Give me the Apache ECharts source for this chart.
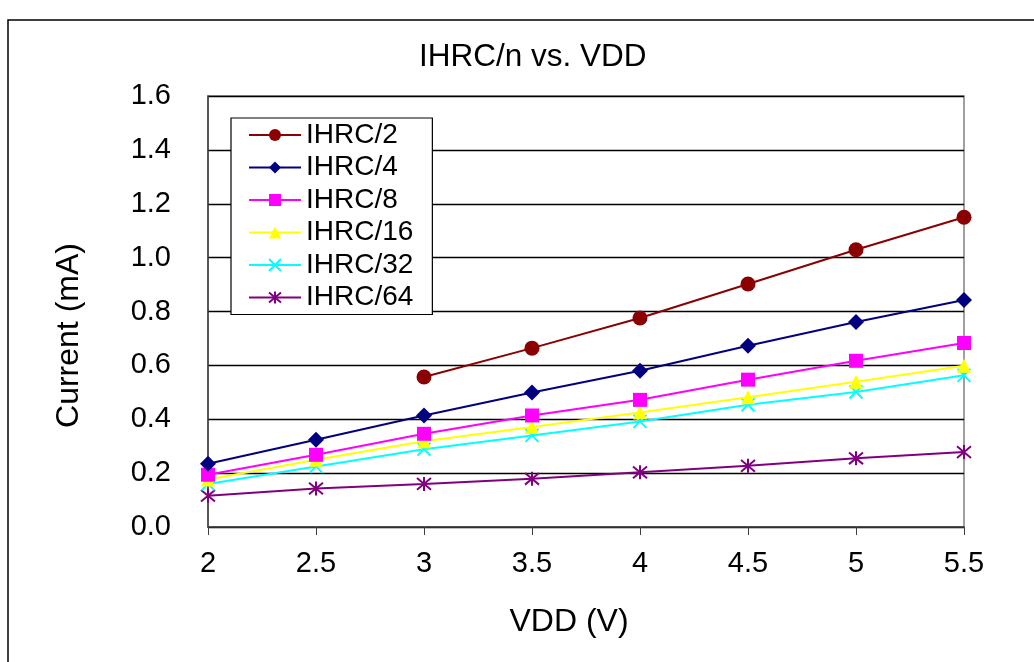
<!DOCTYPE html>
<html lang="en">
<head>
    <meta charset="UTF-8">
    <title>IHRC/n vs. VDD</title>
    <style>
        html, body { margin: 0; padding: 0; background: #fff; }
        #main { width: 1034px; height: 662px; }
    </style>
</head>
<body>
<div id="main"></div>
<script src="https://cdn.jsdelivr.net/npm/echarts@6/dist/echarts.min.js"></script>
<script type="text/javascript">
    // data
    var vdd = [2, 2.5, 3, 3.5, 4, 4.5, 5, 5.5];
    var ihrc2 = [null, null, 0.557, 0.664, 0.776, 0.902, 1.029, 1.150];
    var ihrc4 = [0.235, 0.324, 0.414, 0.499, 0.580, 0.673, 0.761, 0.843];
    var ihrc8 = [0.194, 0.268, 0.346, 0.414, 0.472, 0.547, 0.617, 0.683];
    var ihrc16 = [0.176, 0.250, 0.318, 0.371, 0.425, 0.482, 0.539, 0.599];
    var ihrc32 = [0.160, 0.225, 0.289, 0.340, 0.392, 0.454, 0.501, 0.563];
    var ihrc64 = [0.116, 0.143, 0.160, 0.179, 0.203, 0.227, 0.255, 0.278];
    var seriesNames = ['IHRC/2', 'IHRC/4', 'IHRC/8', 'IHRC/16', 'IHRC/32', 'IHRC/64'];

    var font = 'Liberation Sans, Arial, sans-serif';

    function pairs(ys) {
        var out = [];
        for (var i = 0; i < vdd.length; i++) {
            if (ys[i] !== null) out.push([vdd[i], ys[i]]);
        }
        return out;
    }

    // marker looks: circle, diamond, square, triangle, x, asterisk
    var looks = [
        { color: '#8b0000', symbol: 'circle', size: 15, stroke: false },
        { color: '#000080', symbol: 'diamond', size: 16, stroke: false },
        { color: '#ff00ff', symbol: 'rect', size: 14, stroke: false },
        { color: '#ffff00', symbol: 'triangle', size: 14, stroke: false },
        { color: '#00ffff', symbol: 'path://M0,0L10,10M10,0L0,10', size: 13, stroke: true },
        { color: '#800080', symbol: 'path://M0,0L10,10M10,0L0,10M5,-1L5,11', size: 14, stroke: true }
    ];
    var allData = [ihrc2, ihrc4, ihrc8, ihrc16, ihrc32, ihrc64];

    var series = seriesNames.map(function (name, i) {
        var lk = looks[i];
        return {
            name: name,
            type: 'line',
            data: pairs(allData[i]),
            symbol: lk.symbol,
            symbolSize: lk.size,
            showAllSymbol: true,
            lineStyle: { color: lk.color, width: 2 },
            itemStyle: lk.stroke
                ? { color: 'transparent', borderColor: lk.color, borderWidth: 2 }
                : { color: lk.color, borderWidth: 0 },
            emphasis: { disabled: true },
            z: 10 - i
        };
    });

    var myChart = echarts.init(document.getElementById('main'));
    var option = {
        backgroundColor: '#fff',
        animation: false,
        title: {
            text: 'IHRC/n vs. VDD',
            left: 414,
            top: 36,
            textStyle: { fontFamily: font, fontSize: 31.5, fontWeight: 'normal', color: '#000' }
        },
        graphic: [{
            type: 'rect',
            shape: { x: 8, y: 20, width: 1040, height: 660 },
            style: { fill: 'none', stroke: '#000', lineWidth: 1.5 },
            silent: true
        }],
        legend: {
            orient: 'vertical',
            left: 231,
            top: 118,
            padding: [3, 19, 3, 17],
            itemGap: 4.5,
            itemWidth: 52,
            itemHeight: 15,
            backgroundColor: '#fff',
            borderColor: '#000',
            borderWidth: 1.2,
            textStyle: { fontFamily: font, fontSize: 28, color: '#000' },
            data: seriesNames
        },
        grid: {
            left: 208,
            right: 70,
            top: 96,
            bottom: 135,
            show: true,
            borderColor: '#808080',
            borderWidth: 1.5
        },
        xAxis: {
            type: 'value',
            min: 2,
            max: 5.5,
            interval: 0.5,
            name: 'VDD (V)',
            nameLocation: 'middle',
            nameGap: 79,
            nameTextStyle: { fontFamily: font, fontSize: 32, color: '#000', padding: [0, 34, 0, 0] },
            axisLine: { lineStyle: { color: '#404040', width: 1.5 } },
            axisTick: { show: true, inside: false, length: 8, lineStyle: { color: '#404040' } },
            axisLabel: { fontFamily: font, fontSize: 29, color: '#000', margin: 22 },
            splitLine: { show: false }
        },
        yAxis: {
            type: 'value',
            min: 0,
            max: 1.6,
            interval: 0.2,
            name: 'Current (mA)',
            nameLocation: 'middle',
            nameGap: 123,
            nameTextStyle: { fontFamily: font, fontSize: 32, color: '#000', padding: [0, 48, 0, 0] },
            axisLine: { show: true, lineStyle: { color: '#404040', width: 1.5 } },
            axisTick: { show: false },
            axisLabel: {
                fontFamily: font, fontSize: 29, color: '#000', margin: 37,
                formatter: function (v) { return v.toFixed(1); }
            },
            splitLine: { show: true, lineStyle: { color: '#000', width: 1.3 } }
        },
        series: series
    };
    myChart.setOption(option);
</script>
</body>
</html>
